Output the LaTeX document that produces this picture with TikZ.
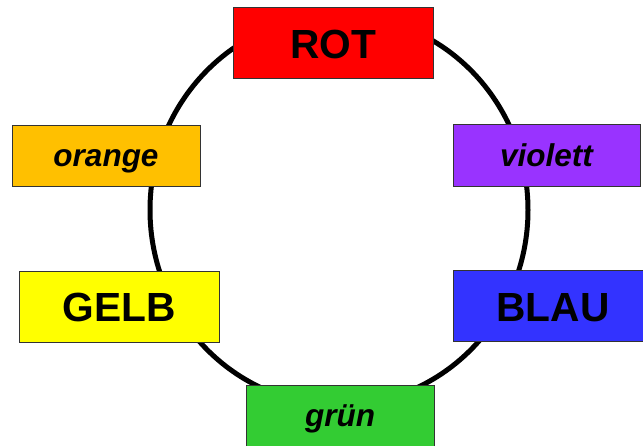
\documentclass[tikz,border=0pt]{standalone}
\usepackage{fontspec}
\setmainfont{Liberation Sans}
\definecolor{cred}{HTML}{FF0000}
\definecolor{corange}{HTML}{FFC000}
\definecolor{cviolet}{HTML}{9933FF}
\definecolor{cyellow}{HTML}{FFFF00}
\definecolor{cblue}{HTML}{3333FF}
\definecolor{cgreen}{HTML}{33CC33}
\definecolor{cborder}{HTML}{333333}
\tikzset{
  colbox/.style={draw=cborder, line width=1pt, inner sep=0pt, anchor=center},
  bigbox/.style={colbox, minimum width=200pt, minimum height=71pt,
    font=\fontsize{40.7pt}{44pt}\selectfont\bfseries, text height=29.1pt, text depth=0pt},
  smallbox/.style={colbox, minimum width=188pt, minimum height=61pt,
    font=\fontsize{31.5pt}{34pt}\selectfont\bfseries\itshape, text height=20.2pt, text depth=0pt},
  ring/.style={draw=black, line width=5pt}
}
\begin{document}
\begin{tikzpicture}[x=1pt,y=-1pt]
\clip (0,0) rectangle (643,446);
\fill[white] (0,0) rectangle (643,446);
\coordinate (c) at (339,210);
\draw[ring] (c) ellipse [x radius=189pt, y radius=195pt];
\node[bigbox, fill=cred] (rot) at (333,43.5) {ROT};
\node[smallbox, fill=corange] (orange) at (106,156.5) {orange};
\node[smallbox, fill=cviolet, minimum width=187pt, minimum height=62pt] (violett) at (546.5,156) {violett};
\node[bigbox, fill=cyellow] (gelb) at (119,307) {GELB};
\node[bigbox, fill=cblue] (blau) at (553,306.5) {BLAU};
\node[smallbox, fill=cgreen] (gruen) at (340,416.5) {grün};
\end{tikzpicture}
\end{document}
